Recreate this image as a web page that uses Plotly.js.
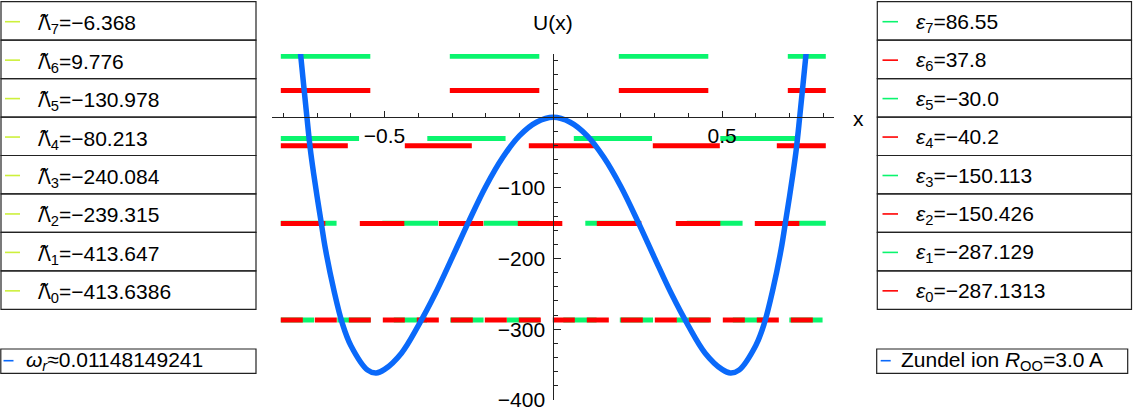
<!DOCTYPE html>
<html>
<head>
<meta charset="utf-8">
<script src="https://cdn.plot.ly/plotly-3.0.1.min.js"></script>
<style>
  html, body { margin: 0; padding: 0; background: #fff; }
  #chart { width: 1133px; height: 410px; }
</style>
</head>
<body>
<div id="chart"></div>
<script>
// ---------------- DATA ----------------
// Energy levels (epsilon), listed from index 7 down to 0
const epsIndex = [7, 6, 5, 4, 3, 2, 1, 0];
const epsValues = [86.55, 37.8, -30.0, -40.2, -150.113, -150.426, -287.129, -287.1313];
const epsLabels = ['86.55', '37.8', '−30.0', '−40.2', '−150.113', '−150.426', '−287.129', '−287.1313'];

// Lambda-tilde values (left legend), index 7 down to 0
const lambdaIndex = [7, 6, 5, 4, 3, 2, 1, 0];
const lambdaLabels = ['−6.368', '9.776', '−130.978', '−80.213', '−240.084', '−239.315', '−413.647', '−413.6386'];

// Horizontal extent of each level line
const levelX = [-0.8, 0.8];

// Potential curve U(x)
const curveX = [-0.76, -0.75, -0.74, -0.73, -0.72, -0.71, -0.70, -0.69, -0.675, -0.65, -0.625, -0.6, -0.55, -0.525, -0.5, -0.45, -0.4, -0.35, -0.3, -0.25, -0.2, -0.15, -0.1, -0.05,
                0, 0.05, 0.1, 0.15, 0.2, 0.25, 0.3, 0.35, 0.4, 0.45, 0.5, 0.525, 0.55, 0.6, 0.625, 0.65, 0.675, 0.69, 0.70, 0.71, 0.72, 0.73, 0.74, 0.75, 0.76];
const curveU = [145, 95, 47, 0, -45, -80, -112, -142, -187, -245, -292, -323, -358, -362, -357, -334, -295, -250, -199, -147, -98, -57, -26, -7,
                0, -7, -26, -57, -98, -147, -199, -250, -295, -334, -357, -362, -358, -323, -292, -245, -187, -142, -112, -80, -45, 0, 47, 95, 145];

const tickValsX = [-0.5, 0.5];
const tickValsY = [-400, -300, -200, -100];

const noteLeft = '<i>ω</i><sub><i>r</i></sub>≈0.01148149241';
const noteRight = 'Zundel ion <i>R</i><sub>OO</sub>=3.0 A';

// ---------------- STYLE ----------------
const GREEN = 'rgb(10,245,110)';
const RED = 'rgb(255,0,0)';
const BLUE = 'rgb(10,105,250)';
const LAMBDA_MARK = 'rgb(205,240,60)';
const AX = '#222';
const FONT = 'Liberation Sans, Arial, sans-serif';
const FS = 21;

const W = 1133, H = 410;
const M = { l: 272, r: 299, t: 54, b: 10 };
const PW = W - M.l - M.r, PH = H - M.t - M.b;
const px = v => (v - M.l) / PW;
const py = v => 1 - (v - M.t) / PH;

const xRange = [-0.8335, 0.8317];
const yRange = [-400.3, 89.6];

function levelColor(idx) { return idx % 2 === 1 ? GREEN : RED; }
function halfDash(idx) { return idx === 7 ? 84.5 : 17 + 11.25 * idx; }
const LW = 5;

// ---------------- TRACES ----------------
const traces = [];
epsIndex.forEach((idx, i) => {
  const h = halfDash(idx);
  traces.push({
    x: levelX, y: [epsValues[i], epsValues[i]],
    mode: 'lines', type: 'scatter', hoverinfo: 'skip',
    line: { color: levelColor(idx), width: LW, dash: h.toFixed(2) + 'px,' + h.toFixed(2) + 'px' }
  });
});
traces.push({
  x: curveX, y: curveU, mode: 'lines', type: 'scatter', hoverinfo: 'skip',
  line: { color: BLUE, width: 5.5, shape: 'spline', smoothing: 1 }
});

// ---------------- LEGEND BOXES ----------------
const shapes = [];
const annotations = [];
const rowTop = 1.7, rowH = 38.45;
const txtFont = { family: FONT, size: FS, color: '#000' };
for (let i = 0; i < 8; i++) {
  const y0 = rowTop + i * rowH, y1 = y0 + rowH, yc = y0 + 20;
  // left box
  shapes.push({ type: 'rect', xref: 'paper', yref: 'paper', x0: px(1), x1: px(256), y0: py(y0), y1: py(y1), line: { color: AX, width: 1.2 } });
  shapes.push({ type: 'line', xref: 'paper', yref: 'paper', x0: px(5), x1: px(20), y0: py(yc), y1: py(yc), line: { color: LAMBDA_MARK, width: 1.6 } });
  annotations.push({ xref: 'paper', yref: 'paper', x: px(36), y: py(yc + 1), xanchor: 'left', yanchor: 'middle', showarrow: false,
    text: '<span style="font-family:\'Noto Sans\'">Λ̃</span><sub>' + lambdaIndex[i] + '</sub>=' + lambdaLabels[i], font: txtFont });
  // right box
  shapes.push({ type: 'rect', xref: 'paper', yref: 'paper', x0: px(877.3), x1: px(1131.5), y0: py(y0), y1: py(y1), line: { color: AX, width: 1.2 } });
  shapes.push({ type: 'line', xref: 'paper', yref: 'paper', x0: px(882.5), x1: px(898), y0: py(yc), y1: py(yc), line: { color: levelColor(epsIndex[i]), width: 1.6 } });
  annotations.push({ xref: 'paper', yref: 'paper', x: px(914), y: py(yc + 1), xanchor: 'left', yanchor: 'middle', showarrow: false,
    text: '<i>ε</i><sub>' + epsIndex[i] + '</sub>=' + epsLabels[i], font: txtFont });
}
// bottom boxes
shapes.push({ type: 'rect', xref: 'paper', yref: 'paper', x0: px(0.8), x1: px(256), y0: py(349), y1: py(373.3), line: { color: AX, width: 1.2 } });
shapes.push({ type: 'line', xref: 'paper', yref: 'paper', x0: px(3.5), x1: px(13.5), y0: py(360.7), y1: py(360.7), line: { color: BLUE, width: 1.6 } });
annotations.push({ xref: 'paper', yref: 'paper', x: px(24), y: py(361), xanchor: 'left', yanchor: 'middle', showarrow: false,
  text: noteLeft, font: txtFont });
shapes.push({ type: 'rect', xref: 'paper', yref: 'paper', x0: px(876.7), x1: px(1127.7), y0: py(349), y1: py(373.3), line: { color: AX, width: 1.2 } });
shapes.push({ type: 'line', xref: 'paper', yref: 'paper', x0: px(880.7), x1: px(890.7), y0: py(360.7), y1: py(360.7), line: { color: BLUE, width: 1.6 } });
annotations.push({ xref: 'paper', yref: 'paper', x: px(899), y: py(361), xanchor: 'left', yanchor: 'middle', showarrow: false,
  text: noteRight, font: txtFont });

// axis titles
annotations.push({ xref: 'paper', yref: 'paper', x: px(553), y: py(23), xanchor: 'center', yanchor: 'middle', showarrow: false,
  text: 'U(x)', font: txtFont });
annotations.push({ xref: 'paper', yref: 'paper', x: px(858), y: py(118), xanchor: 'center', yanchor: 'middle', showarrow: false,
  text: 'x', font: txtFont });

const xPos = (0 - xRange[0]) / (xRange[1] - xRange[0]);
const yPos = (0 - yRange[0]) / (yRange[1] - yRange[0]);

const layout = {
  width: W, height: H,
  margin: M,
  paper_bgcolor: '#fff', plot_bgcolor: 'rgba(0,0,0,0)',
  showlegend: false,
  font: { family: FONT, size: FS, color: '#000' },
  xaxis: {
    range: xRange, anchor: 'free', position: yPos,
    showgrid: false, zeroline: false, showline: true, linecolor: AX, linewidth: 1,
    tickmode: 'array', tickvals: tickValsX, ticks: 'inside', ticklen: 6, tickcolor: AX, tickwidth: 1,
    ticklabelstandoff: 0, ticklabeloverflow: 'allow',
    tickfont: txtFont,
    minor: { tickmode: 'linear', tick0: 0, dtick: 0.1, ticks: 'inside', ticklen: 4, tickcolor: AX, tickwidth: 1, showgrid: false }
  },
  yaxis: {
    range: yRange, anchor: 'free', position: xPos,
    showgrid: false, zeroline: false, showline: true, linecolor: AX, linewidth: 1,
    tickmode: 'array', tickvals: tickValsY, ticks: 'inside', ticklen: 7, tickcolor: AX, tickwidth: 1,
    ticklabelstandoff: 4, ticklabeloverflow: 'allow',
    tickfont: txtFont,
    minor: { tickmode: 'linear', tick0: 0, dtick: 20, ticks: 'inside', ticklen: 4, tickcolor: AX, tickwidth: 1, showgrid: false }
  },
  shapes: shapes,
  annotations: annotations
};

Plotly.newPlot('chart', traces, layout, { staticPlot: true, displayModeBar: false }).then(gd => {
  // square line caps on the level lines (each dash gets a cap)
  const tr = gd.querySelectorAll('.scatterlayer .trace');
  tr.forEach((t, i) => {
    if (i < epsIndex.length) {
      t.querySelectorAll('path.js-line').forEach(p => { p.style.strokeLinecap = 'square'; });
    }
  });
});
</script>
</body>
</html>
